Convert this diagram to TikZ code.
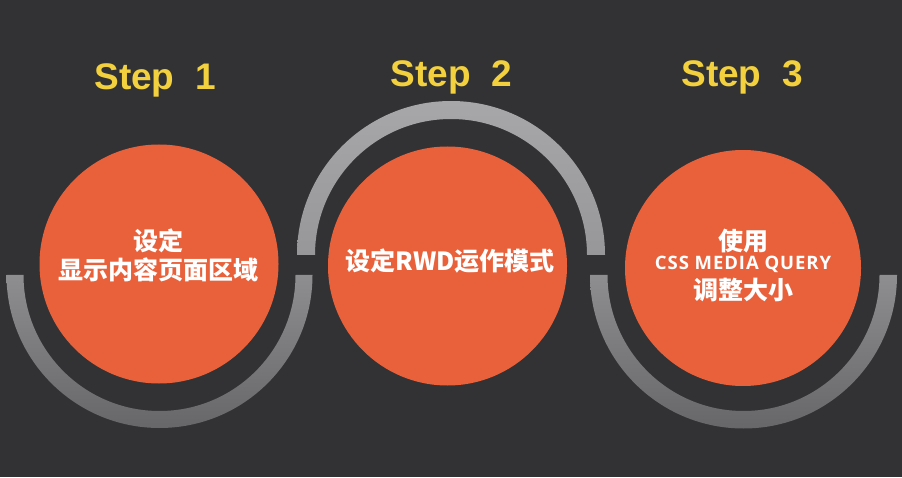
\documentclass[tikz,border=0pt]{standalone}
\usepackage{fontspec}
\setmainfont{Liberation Sans}
\newfontfamily\cjk{Noto Sans CJK SC}
\newfontfamily\opensans[LetterSpace=5]{Open Sans}
\usetikzlibrary{shadings}
\definecolor{bgc}{HTML}{323234}
\definecolor{orangec}{HTML}{E9613B}
\definecolor{yellowc}{HTML}{F2D03E}
\definecolor{upTop}{HTML}{A7A7A9}
\definecolor{upBot}{HTML}{97979A}
\definecolor{lowTop}{HTML}{8E8E90}
\definecolor{lowBot}{HTML}{67676A}
\tikzset{
  disc/.style={circle, fill=orangec, minimum size=#1, inner sep=0pt},
  steptitle/.style={text=yellowc, font=\fontsize{37}{40}\selectfont\bfseries, anchor=base, inner sep=0pt},
  cjktext/.style={text=white, font=\cjk\fontsize{25}{28}\selectfont\bfseries, inner sep=0pt},
  latintext/.style={text=white, font=\opensans\fontsize{18.5}{20}\selectfont\bfseries, inner sep=0pt},
}
\begin{document}
\begin{tikzpicture}[x=1pt,y=1pt]
  \fill[bgc] (0,0) rectangle (902,477);
  \useasboundingbox (0,0) rectangle (902,477);
  % lower arc 1
  \shade[top color=lowTop, bottom color=lowBot]
    (6.5,202) arc[start angle=180, end angle=360, radius=153]
    -- (295.5,202) arc[start angle=0, end angle=-180, radius=136] -- cycle;
  % upper arc 2
  \shade[top color=upTop, bottom color=upBot]
    (297,222) arc[start angle=180, end angle=0, radius=154]
    -- (587,222) arc[start angle=0, end angle=180, radius=136] -- cycle;
  % lower arc 3
  \shade[top color=lowTop, bottom color=lowBot]
    (590,202) arc[start angle=180, end angle=360, radius=153.5]
    -- (879.5,202) arc[start angle=0, end angle=-180, radius=136] -- cycle;
  % discs
  \node[disc=239pt] (c1) at (159,213) {};
  \node[disc=239pt] (c2) at (447.5,211) {};
  \node[disc=236pt] (c3) at (743,209) {};
  % titles
  \node[steptitle] (s1) at (155,387) {Step\ \ 1};
  \node[steptitle] (s2) at (451.5,390) {Step\ \ 2};
  \node[steptitle] (s3) at (742,390) {Step\ \ 3};
  % texts
  \node[cjktext] (t1a) at (158,236) {设定};
  \node[cjktext] (t1b) at (158,207) {显示内容页面区域};
  \node[cjktext] (t2) at (450,216) {设定RWD运作模式};
  \node[cjktext] (t3a) at (743,236) {使用};
  \node[latintext] (t3b) at (743,213) {CSS MEDIA QUERY};
  \node[cjktext] (t3c) at (743,187) {调整大小};
\end{tikzpicture}
\end{document}
